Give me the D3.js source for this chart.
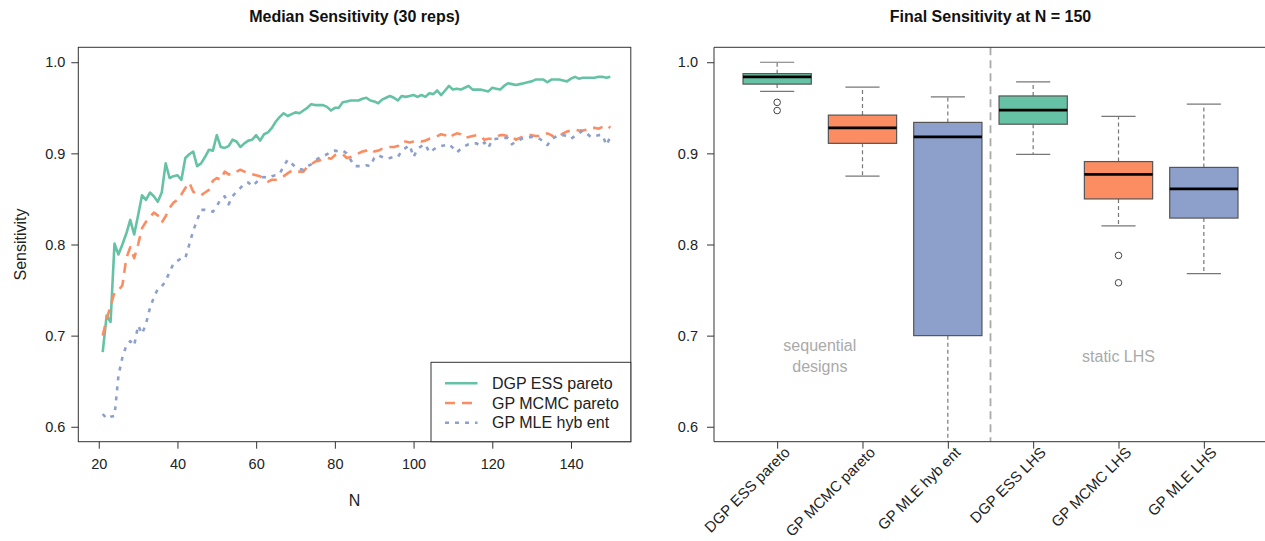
<!DOCTYPE html>
<html>
<head>
<meta charset="utf-8">
<script src="https://cdn.jsdelivr.net/npm/d3@7"></script>
<style>
  html, body { margin: 0; padding: 0; background: #fff; }
  svg { display: block; font-family: "Liberation Sans", Arial, Helvetica, sans-serif; }
</style>
</head>
<body>
<svg id="chart" width="1265" height="541"></svg>
<script>
// ---------------- DATA ----------------
const seriesNames = ["DGP ESS pareto", "GP MCMC pareto", "GP MLE hyb ent"];
const seriesColors = ["#66c2a5", "#fc8d62", "#8da0cb"];
const nValues = d3.range(21, 151); // N = 21..150

const dgpEssPareto = [
  0.682,0.722,0.715,0.801,0.789,0.800,0.812,0.827,0.811,0.832,
  0.854,0.849,0.857,0.853,0.847,0.857,0.889,0.873,0.875,0.876,
  0.871,0.895,0.899,0.902,0.886,0.889,0.896,0.904,0.903,0.920,
  0.907,0.906,0.908,0.915,0.913,0.907,0.911,0.914,0.915,0.920,
  0.914,0.921,0.923,0.928,0.935,0.940,0.944,0.941,0.943,0.945,
  0.944,0.947,0.950,0.954,0.953,0.953,0.953,0.951,0.947,0.950,
  0.950,0.956,0.957,0.958,0.958,0.958,0.960,0.961,0.958,0.957,
  0.955,0.959,0.961,0.963,0.961,0.958,0.963,0.962,0.963,0.964,
  0.962,0.964,0.962,0.966,0.965,0.969,0.964,0.969,0.974,0.970,
  0.971,0.970,0.972,0.974,0.970,0.970,0.970,0.969,0.968,0.972,
  0.971,0.970,0.974,0.977,0.976,0.975,0.976,0.977,0.978,0.979,
  0.981,0.981,0.981,0.978,0.981,0.981,0.981,0.980,0.979,0.982,
  0.984,0.982,0.983,0.983,0.983,0.983,0.984,0.984,0.983,0.984
];
const gpMcmcPareto = [
  0.700,0.718,0.733,0.747,0.750,0.755,0.785,0.797,0.785,0.800,
  0.818,0.825,0.830,0.835,0.832,0.824,0.831,0.840,0.846,0.849,
  0.855,0.862,0.868,0.858,0.855,0.854,0.857,0.860,0.870,0.873,
  0.871,0.880,0.877,0.877,0.880,0.882,0.880,0.878,0.877,0.876,
  0.875,0.871,0.869,0.871,0.871,0.873,0.875,0.878,0.881,0.880,
  0.880,0.880,0.885,0.888,0.891,0.892,0.894,0.895,0.894,0.898,
  0.899,0.899,0.895,0.896,0.898,0.900,0.902,0.903,0.905,0.902,
  0.903,0.905,0.906,0.907,0.907,0.908,0.913,0.913,0.912,0.913,
  0.914,0.913,0.914,0.916,0.917,0.919,0.921,0.920,0.917,0.920,
  0.922,0.921,0.917,0.918,0.919,0.920,0.919,0.915,0.916,0.916,
  0.918,0.920,0.920,0.919,0.919,0.915,0.917,0.919,0.920,0.920,
  0.919,0.919,0.921,0.922,0.920,0.917,0.919,0.922,0.924,0.925,
  0.926,0.925,0.925,0.926,0.928,0.928,0.927,0.929,0.931,0.928
];
const gpMleHybEnt = [
  0.614,0.609,0.611,0.612,0.656,0.676,0.689,0.694,0.689,0.711,
  0.702,0.713,0.730,0.742,0.751,0.754,0.760,0.770,0.779,0.782,
  0.785,0.785,0.800,0.815,0.827,0.838,0.838,0.837,0.836,0.842,
  0.850,0.853,0.844,0.853,0.858,0.862,0.867,0.868,0.864,0.868,
  0.873,0.874,0.873,0.875,0.876,0.878,0.886,0.893,0.889,0.885,
  0.883,0.882,0.886,0.888,0.892,0.895,0.897,0.899,0.902,0.903,
  0.902,0.903,0.900,0.893,0.886,0.886,0.886,0.887,0.886,0.895,
  0.898,0.896,0.894,0.895,0.896,0.896,0.903,0.906,0.909,0.896,
  0.905,0.908,0.910,0.901,0.904,0.907,0.908,0.909,0.910,0.906,
  0.901,0.905,0.908,0.910,0.911,0.911,0.908,0.912,0.906,0.915,
  0.916,0.916,0.917,0.917,0.910,0.913,0.915,0.917,0.917,0.918,
  0.918,0.916,0.913,0.909,0.915,0.918,0.920,0.920,0.919,0.916,
  0.919,0.922,0.925,0.922,0.918,0.919,0.920,0.920,0.909,0.918
];
const lineSeries = [dgpEssPareto, gpMcmcPareto, gpMleHybEnt];

const leftXTicks = [20, 40, 60, 80, 100, 120, 140];
const yTicks = [0.6, 0.7, 0.8, 0.9, 1.0];

// Box plot (final sensitivity at N = 150)
const boxLabels = ["DGP ESS pareto", "GP MCMC pareto", "GP MLE hyb ent", "DGP ESS LHS", "GP MCMC LHS", "GP MLE LHS"];
const boxColors = ["#66c2a5", "#fc8d62", "#8da0cb", "#66c2a5", "#fc8d62", "#8da0cb"];
const boxWhiskerLo = [0.968, 0.875, 0.550, 0.899, 0.8205, 0.768];
const boxQ1        = [0.976, 0.911, 0.700, 0.932, 0.850, 0.829];
const boxMedian    = [0.984, 0.928, 0.918, 0.9475, 0.877, 0.861];
const boxQ3        = [0.9875, 0.942, 0.934, 0.963, 0.891, 0.8846];
const boxWhiskerHi = [1.000, 0.9727, 0.962, 0.9785, 0.9405, 0.954];
const boxOutliers  = [[0.956, 0.947], [], [], [], [0.788, 0.758], []];
const groupNotes = [
  { lines: ["sequential", "designs"], pos: 1.5 },
  { lines: ["static LHS"], pos: 5.0 }
];

// ---------------- DRAWING ----------------
const svg = d3.select("#chart");
const axisColor = "#333";

// ===== Left panel =====
const L = { left: 78.3, right: 630.8, top: 47.3, bottom: 441.7 };
const xL = d3.scaleLinear().domain([14.8, 155.2]).range([L.left, L.right]);
const yS = d3.scaleLinear().domain([0.5836, 1.0164]).range([L.bottom, L.top]);

const gL = svg.append("g");

const lineStyles = [
  { dash: null, w: 2.6 },
  { dash: "10,7", w: 2.6 },
  { dash: "4,6", w: 2.6 }
];
lineSeries.forEach((vals, i) => {
  const line = d3.line().x((d, j) => xL(nValues[j])).y(d => yS(d));
  gL.append("path")
    .datum(vals)
    .attr("d", line)
    .attr("fill", "none")
    .attr("stroke", seriesColors[i])
    .attr("stroke-width", lineStyles[i].w)
    .attr("stroke-dasharray", lineStyles[i].dash)
    .attr("stroke-linejoin", "round");
});

gL.append("rect")
  .attr("x", L.left).attr("y", L.top)
  .attr("width", L.right - L.left).attr("height", L.bottom - L.top)
  .attr("fill", "none").attr("stroke", axisColor).attr("stroke-width", 1);

const axL = d3.axisLeft(yS).tickValues(yTicks).tickFormat(d3.format(".1f")).tickSize(7).tickPadding(6);
const axB = d3.axisBottom(xL).tickValues(leftXTicks).tickSize(7).tickPadding(10);
function styleAxis(g) {
  g.select(".domain").remove();
  g.selectAll(".tick line").attr("stroke", axisColor);
  g.selectAll(".tick text").attr("fill", "#222").attr("font-size", 14.5)
    .attr("font-family", "Liberation Sans, Arial, sans-serif");
}
gL.append("g").attr("transform", `translate(${L.left},0)`).call(axL).call(styleAxis);
gL.append("g").attr("transform", `translate(0,${L.bottom})`).call(axB).call(styleAxis);

svg.append("text").attr("x", (L.left + L.right) / 2).attr("y", 22)
  .attr("text-anchor", "middle").attr("font-weight", "bold").attr("font-size", 16)
  .attr("fill", "#111").text("Median Sensitivity (30 reps)");
svg.append("text").attr("x", (L.left + L.right) / 2).attr("y", 506)
  .attr("text-anchor", "middle").attr("font-size", 16).attr("fill", "#222").text("N");
svg.append("text").attr("transform", `translate(26,${(L.top + L.bottom) / 2}) rotate(-90)`)
  .attr("text-anchor", "middle").attr("font-size", 16).attr("fill", "#222").text("Sensitivity");

// legend
const lg = gL.append("g");
const legX0 = 431, legY0 = 362.3;
lg.append("rect").attr("x", legX0).attr("y", legY0)
  .attr("width", L.right - legX0).attr("height", L.bottom - legY0)
  .attr("fill", "#fff").attr("stroke", axisColor).attr("stroke-width", 1);
seriesNames.forEach((name, i) => {
  const yy = 383.3 + i * 19.7;
  lg.append("line").attr("x1", 445).attr("x2", 477.5).attr("y1", yy).attr("y2", yy)
    .attr("stroke", seriesColors[i]).attr("stroke-width", 2.6)
    .attr("stroke-dasharray", lineStyles[i].dash);
  lg.append("text").attr("x", 492).attr("y", yy).attr("dy", "0.35em")
    .attr("font-size", 16).attr("fill", "#222").text(name);
});

// ===== Right panel =====
const R = { left: 714, right: 1267, top: 47.3, bottom: 441.7 };
const xR = d3.scaleLinear().domain([0.26, 6.74]).range([R.left, R.right]);
const gR = svg.append("g");

svg.append("defs").append("clipPath").attr("id", "clipR")
  .append("rect").attr("x", R.left).attr("y", R.top)
  .attr("width", R.right - R.left).attr("height", R.bottom - R.top);

const gBoxes = gR.append("g").attr("clip-path", "url(#clipR)");
const boxHalf = 0.4, capHalf = 0.2;
boxLabels.forEach((lab, i) => {
  const cx = xR(i + 1);
  const g = gBoxes.append("g");
  g.append("line").attr("x1", cx).attr("x2", cx)
    .attr("y1", yS(boxQ3[i])).attr("y2", yS(boxWhiskerHi[i]))
    .attr("stroke", "#777").attr("stroke-width", 1.2).attr("stroke-dasharray", "4,3");
  g.append("line").attr("x1", cx).attr("x2", cx)
    .attr("y1", yS(boxQ1[i])).attr("y2", yS(boxWhiskerLo[i]))
    .attr("stroke", "#777").attr("stroke-width", 1.2).attr("stroke-dasharray", "4,3");
  [boxWhiskerHi[i], boxWhiskerLo[i]].forEach(v => {
    g.append("line").attr("x1", xR(i + 1 - capHalf)).attr("x2", xR(i + 1 + capHalf))
      .attr("y1", yS(v)).attr("y2", yS(v))
      .attr("stroke", "#777").attr("stroke-width", 1.2);
  });
  g.append("rect").attr("x", xR(i + 1 - boxHalf)).attr("y", yS(boxQ3[i]))
    .attr("width", xR(i + 1 + boxHalf) - xR(i + 1 - boxHalf))
    .attr("height", yS(boxQ1[i]) - yS(boxQ3[i]))
    .attr("fill", boxColors[i]).attr("stroke", "#555").attr("stroke-width", 1.2);
  g.append("line").attr("x1", xR(i + 1 - boxHalf)).attr("x2", xR(i + 1 + boxHalf))
    .attr("y1", yS(boxMedian[i])).attr("y2", yS(boxMedian[i]))
    .attr("stroke", "#000").attr("stroke-width", 2.8);
  boxOutliers[i].forEach(v => {
    g.append("circle").attr("cx", cx).attr("cy", yS(v)).attr("r", 3.3)
      .attr("fill", "none").attr("stroke", "#444").attr("stroke-width", 1);
  });
});

gR.append("line").attr("x1", xR(3.5)).attr("x2", xR(3.5))
  .attr("y1", R.top).attr("y2", R.bottom)
  .attr("stroke", "#aaa").attr("stroke-width", 1.8).attr("stroke-dasharray", "8,5");

groupNotes.forEach(note => {
  const t = gR.append("text").attr("text-anchor", "middle").attr("font-size", 16).attr("fill", "#aaa");
  const n = note.lines.length;
  note.lines.forEach((ln, k) => {
    t.append("tspan").attr("x", xR(note.pos))
      .attr("y", 356 + (k - (n - 1) / 2) * 21).attr("dy", "0.35em").text(ln);
  });
});

gR.append("path")
  .attr("d", `M${R.right},${R.top}H${R.left}V${R.bottom}H${R.right}`)
  .attr("fill", "none").attr("stroke", axisColor).attr("stroke-width", 1);

gR.append("g").attr("transform", `translate(${R.left},0)`)
  .call(d3.axisLeft(yS).tickValues(yTicks).tickFormat(d3.format(".1f")).tickSize(7).tickPadding(9))
  .call(styleAxis);
const axBR = gR.append("g").attr("transform", `translate(0,${R.bottom})`)
  .call(d3.axisBottom(xR).tickValues(d3.range(1, 7)).tickSize(7).tickFormat(""));
axBR.select(".domain").remove();
axBR.selectAll(".tick line").attr("stroke", axisColor);
boxLabels.forEach((lab, i) => {
  gR.append("text")
    .attr("transform", `translate(${xR(i + 1) + 10},${R.bottom + 8}) rotate(-45)`)
    .attr("text-anchor", "end").attr("dy", "0.35em")
    .attr("font-size", 15).attr("fill", "#222").text(lab);
});

svg.append("text").attr("x", (R.left + R.right) / 2).attr("y", 22)
  .attr("text-anchor", "middle").attr("font-weight", "bold").attr("font-size", 16)
  .attr("fill", "#111").text("Final Sensitivity at N = 150");
</script>
</body>
</html>
